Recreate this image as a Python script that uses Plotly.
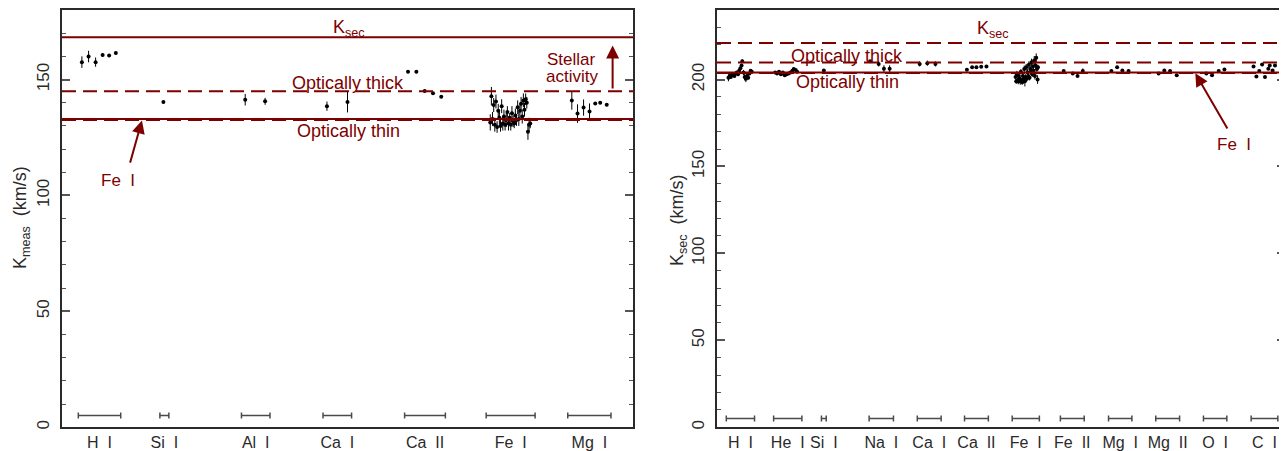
import plotly.graph_objects as go

# ---------------- data: left panel (K_meas) ----------------
L_labels = ["H\u00a0\u00a0I", "Si\u00a0\u00a0I", "Al\u00a0\u00a0I", "Ca\u00a0\u00a0I", "Ca\u00a0\u00a0II", "Fe\u00a0\u00a0I", "Mg\u00a0\u00a0I"]
L_br_lo = [2.0, 12.0, 22.0, 32.0, 42.0, 52.0, 62.0]
L_br_hi = [7.2, 13.1, 25.5, 35.5, 47.0, 58.0, 67.3]

L_HI_x = [2.44, 3.26, 4.12, 4.98, 5.78, 6.60]
L_HI_y = [157.5, 159.9, 157.5, 160.6, 160.4, 161.4]
L_HI_e = [2.5, 2.5, 2.0, 0.8, 0.6, 0.6]

L_SiI_x = [12.43]
L_SiI_y = [140.3]
L_SiI_e = [0.6]

L_AlI_x = [22.46, 24.9]
L_AlI_y = [141.3, 140.6]
L_AlI_e = [2.5, 1.5]

L_CaI_x = [32.48, 35.0]
L_CaI_y = [138.5, 140.3]
L_CaI_e = [2.0, 4.5]

L_CaII_x = [42.42, 43.44, 44.46, 45.48, 46.49]
L_CaII_y = [153.3, 153.3, 145.0, 144.1, 142.6]
L_CaII_e = [0.5, 0.5, 0.5, 0.5, 0.5]

L_FeI_x = [52.5, 52.64, 52.78, 52.92, 53.06, 53.2, 53.34, 53.48, 53.62, 53.76, 53.9, 54.04,
           54.18, 54.32, 54.46, 54.6, 54.74, 54.88, 55.02, 55.16, 55.3, 55.44, 55.58, 55.72,
           55.86, 56.0, 56.14, 56.28, 56.42, 56.56, 56.7, 56.84, 56.98, 57.12, 57.26, 57.4]
L_FeI_y = [131.5, 142.8, 133.0, 139.0, 130.5, 140.5, 129.5, 136.5, 133.5, 130.0, 138.5, 131.0,
           134.0, 130.5, 132.5, 136.0, 131.0, 133.5, 130.5, 135.5, 132.0, 131.0, 134.5, 132.5,
           138.0, 133.0, 136.5, 139.5, 134.0, 141.0, 137.0, 141.5, 140.0, 127.5, 130.5, 131.0]
L_FeI_e = [3.5, 4.0, 3.0, 3.0, 3.0, 3.0, 2.5, 3.0, 3.0, 2.5, 3.0, 3.0,
           3.0, 2.5, 3.0, 2.5, 3.0, 2.0, 2.5, 3.0, 2.5, 2.0, 3.0, 2.5,
           3.0, 3.0, 3.0, 3.0, 3.0, 3.0, 3.0, 2.5, 2.5, 3.5, 3.0, 2.0]

L_MgI_x = [62.5, 63.2, 63.94, 64.67, 65.37, 65.98, 66.78]
L_MgI_y = [141.0, 135.3, 137.9, 136.2, 139.7, 140.0, 139.1]
L_MgI_e = [4.0, 4.0, 3.5, 3.5, 0.6, 0.6, 0.6]

L_Ksec = 168.2
L_thick = 144.9
L_thin_solid = 133.0
L_thin_dash = 132.5

# ---------------- data: right panel (K_sec) ----------------
R_labels = ["H\u00a0\u00a0I", "He\u00a0\u00a0I", "Si\u00a0\u00a0I", "Na\u00a0\u00a0I", "Ca\u00a0\u00a0I", "Ca\u00a0\u00a0II",
            "Fe\u00a0\u00a0I", "Fe\u00a0\u00a0II", "Mg\u00a0\u00a0I", "Mg\u00a0\u00a0II", "O\u00a0\u00a0I", "C\u00a0\u00a0I"]
R_br_lo = [1.95, 11.87, 21.9, 31.9, 42.0, 51.9, 61.9, 72.0, 82.1, 92.0, 102.0, 112.0]
R_br_hi = [7.87, 17.8, 22.9, 37.0, 47.0, 56.9, 67.6, 77.0, 87.0, 97.0, 106.9, 117.6]

R_HI_x = [2.4, 2.65, 2.9, 3.15, 3.4, 3.65, 3.9, 4.15, 4.4, 4.65, 4.9, 5.15, 5.3, 5.55, 5.8,
          6.05, 6.3, 6.55, 6.8, 7.05, 7.3]
R_HI_y = [201.0, 202.0, 201.5, 203.0, 202.5, 202.0, 203.5, 204.0, 203.0, 205.0, 206.5, 208.0,
          210.5, 204.0, 201.5, 200.5, 202.0, 201.0, 203.5, 205.0, 204.5]
R_HI_e = [2.0, 1.0, 1.0, 1.0, 1.0, 1.0, 1.0, 1.0, 1.0, 1.0, 1.0, 1.0,
          1.0, 1.5, 2.0, 2.0, 1.5, 1.0, 1.0, 1.0, 1.0]

R_HeI_x = [12.2, 12.6, 13.0, 13.4, 13.8, 14.2, 14.6, 15.0, 15.4, 15.8, 16.1, 16.5, 16.8]
R_HeI_y = [204.0, 203.5, 204.5, 203.0, 204.0, 202.5, 203.0, 203.5, 204.0, 205.0, 206.0, 205.5, 204.5]
R_HeI_e = [0.5, 0.5, 0.5, 0.5, 0.5, 0.5, 0.5, 0.5, 0.5, 0.5, 0.5, 0.5, 0.5]

R_SiI_x = [22.4]
R_SiI_y = [205.2]
R_SiI_e = [0.5]

R_NaI_x = [32.1, 33.9, 35.0, 36.2]
R_NaI_y = [210.5, 209.0, 206.2, 206.2]
R_NaI_e = [0.5, 1.5, 2.0, 2.0]

R_CaI_x = [42.5, 44.1, 45.8]
R_CaI_y = [209.0, 209.4, 209.0]
R_CaI_e = [1.5, 1.5, 1.5]

R_CaII_x = [52.4, 53.5, 54.4, 55.4, 56.5]
R_CaII_y = [205.6, 207.0, 207.1, 207.4, 207.5]
R_CaII_e = [0.4, 0.4, 0.4, 0.4, 0.4]

R_FeI_x = [62.6, 62.74, 62.88, 63.02, 63.16, 63.3, 63.44, 63.58, 63.72, 63.86, 64.0, 64.14,
           64.28, 64.42, 64.56, 64.7, 64.84, 64.98, 65.12, 65.26, 65.4, 65.54, 65.68, 65.82,
           65.96, 66.1, 66.24, 66.38, 66.52, 66.66, 66.8, 66.94, 67.08, 67.22, 67.3]
R_FeI_y = [201.5, 199.0, 203.0, 199.5, 198.8, 202.0, 200.5, 199.0, 204.5, 199.5, 198.5, 202.0,
           200.0, 206.0, 199.0, 201.5, 207.0, 200.5, 204.0, 202.0, 208.5, 201.0, 206.0, 204.5,
           210.0, 203.0, 207.5, 205.0, 211.0, 202.0, 208.0, 212.5, 206.0, 200.0, 207.0]
R_FeI_e = [1.5, 1.5, 2.0, 1.5, 1.5, 2.0, 1.5, 2.0, 1.5, 1.5, 1.5, 2.0,
           1.5, 2.0, 3.0, 1.5, 2.0, 1.5, 2.0, 1.5, 2.0, 1.5, 2.0, 1.5,
           2.0, 1.5, 2.0, 1.5, 2.5, 2.0, 1.5, 2.5, 2.0, 2.5, 1.5]

R_FeII_x = [72.7, 74.6, 75.6, 76.7]
R_FeII_y = [204.9, 203.4, 202.0, 204.9]
R_FeII_e = [0.5, 0.5, 0.8, 1.5]

R_MgI_x = [82.7, 83.9, 85.0, 86.3]
R_MgI_y = [204.9, 207.1, 205.2, 204.9]
R_MgI_e = [0.5, 0.8, 0.5, 0.5]

R_MgII_x = [92.6, 93.8, 95.0, 96.4]
R_MgII_y = [203.4, 205.2, 204.9, 202.4]
R_MgII_e = [0.5, 0.5, 0.5, 0.8]

R_OI_x = [102.6, 103.8, 105.2, 106.4]
R_OI_y = [203.4, 202.4, 204.9, 205.8]
R_OI_e = [0.5, 0.5, 0.8, 0.8]

R_CI_x = [112.5, 113.1, 113.7, 114.3, 114.9, 115.6, 115.9, 116.5, 117.0]
R_CI_y = [207.5, 201.8, 204.9, 208.7, 201.4, 206.2, 208.1, 205.2, 208.1]
R_CI_e = [0.6, 0.6, 0.6, 0.6, 0.6, 0.6, 0.6, 0.6, 0.6]

R_Ksec = 221.0
R_thick = 209.8
R_thin_solid = 204.1
R_thin_dash = 203.7

# ---------------- styling ----------------
RED = "#7d0000"
FONT = "Liberation Sans"
AXC = "#2a2a2a"
TICKC = "#555555"
DASH = "14px,7px"

# page body has an 8px margin: figure is drawn 8px right/down of window origin
OFF = 8
W, H = 1287 - OFF, 451 - OFF


def px_x(p):
    return (p - OFF) / W


def px_y(p):
    return (H - (p - OFF)) / H


fig = go.Figure()


def pts(x, y, e, xa, ya):
    fig.add_trace(go.Scatter(
        x=x, y=y, mode="markers", xaxis=xa, yaxis=ya, showlegend=False,
        marker=dict(size=4, color="black"),
        error_y=dict(type="data", array=e, color="black", thickness=1, width=0),
        hoverinfo="skip"))


def brackets(lo, hi, xa, ya):
    cx = [(a + b) / 2 for a, b in zip(lo, hi)]
    ex = [(b - a) / 2 for a, b in zip(lo, hi)]
    fig.add_trace(go.Scatter(
        x=cx, y=[5] * len(cx), mode="markers", xaxis=xa, yaxis=ya, showlegend=False,
        marker=dict(size=1, color="rgba(0,0,0,0)"),
        error_x=dict(type="data", array=ex, color="#4a4a4a", thickness=1.5, width=3),
        hoverinfo="skip"))
    return cx


for x, y, e in [(L_HI_x, L_HI_y, L_HI_e), (L_SiI_x, L_SiI_y, L_SiI_e), (L_AlI_x, L_AlI_y, L_AlI_e),
                (L_CaI_x, L_CaI_y, L_CaI_e), (L_CaII_x, L_CaII_y, L_CaII_e),
                (L_FeI_x, L_FeI_y, L_FeI_e), (L_MgI_x, L_MgI_y, L_MgI_e)]:
    pts(x, y, e, "x", "y")
L_centers = brackets(L_br_lo, L_br_hi, "x", "y")

for x, y, e in [(R_HI_x, R_HI_y, R_HI_e), (R_HeI_x, R_HeI_y, R_HeI_e), (R_SiI_x, R_SiI_y, R_SiI_e),
                (R_NaI_x, R_NaI_y, R_NaI_e), (R_CaI_x, R_CaI_y, R_CaI_e), (R_CaII_x, R_CaII_y, R_CaII_e),
                (R_FeI_x, R_FeI_y, R_FeI_e), (R_FeII_x, R_FeII_y, R_FeII_e), (R_MgI_x, R_MgI_y, R_MgI_e),
                (R_MgII_x, R_MgII_y, R_MgII_e), (R_OI_x, R_OI_y, R_OI_e), (R_CI_x, R_CI_y, R_CI_e)]:
    pts(x, y, e, "x2", "y2")
R_centers = brackets(R_br_lo, R_br_hi, "x2", "y2")


def hline(y, xref, yref, dash):
    fig.add_shape(type="line", xref=xref + " domain", yref=yref, x0=0, x1=1, y0=y, y1=y,
                  line=dict(color=RED, width=2, dash=dash), layer="above")


hline(L_Ksec, "x", "y", "solid")
hline(L_thick, "x", "y", DASH)
hline(L_thin_dash, "x", "y", DASH)
hline(L_thin_solid, "x", "y", "solid")

hline(R_Ksec, "x2", "y2", DASH)
hline(R_thick, "x2", "y2", DASH)
hline(R_thin_dash, "x2", "y2", DASH)
hline(R_thin_solid, "x2", "y2", "solid")


def txt(x, y, s, xr, yr, size=18):
    fig.add_annotation(x=x, y=y, xref=xr, yref=yr, text=s, showarrow=False,
                       font=dict(family=FONT, size=size, color=RED))


# left panel texts
txt(35.2, 172.0, "K<sub>sec</sub>", "x", "y", 18)
txt(35.1, 148.3, "Optically thick", "x", "y")
txt(35.1, 128.0, "Optically thin", "x", "y")
txt(62.5, 158.6, "Stellar", "x", "y", 17)
txt(62.5, 151.5, "activity", "x", "y", 17)
txt(6.9, 106.5, "Fe\u00a0\u00a0I", "x", "y", 17)
fig.add_annotation(x=67.5, y=164.7, ax=67.5, ay=145.5, xref="x", yref="y", axref="x", ayref="y",
                   text="", showarrow=True, arrowhead=2, arrowsize=1.3, arrowwidth=2, arrowcolor=RED)
fig.add_annotation(x=9.8, y=132.3, ax=8.3, ay=113.5, xref="x", yref="y", axref="x", ayref="y",
                   text="", showarrow=True, arrowhead=2, arrowsize=1.3, arrowwidth=2, arrowcolor=RED)

# right panel texts
txt(57.9, 228.5, "K<sub>sec</sub>", "x2", "y2", 18)
txt(27.3, 213.6, "Optically thick", "x2", "y2")
txt(27.3, 198.6, "Optically thin", "x2", "y2")
txt(108.5, 162.5, "Fe\u00a0\u00a0I", "x2", "y2", 17)
fig.add_annotation(x=100.3, y=203.6, ax=107.2, ay=171.0, xref="x2", yref="y2", axref="x2", ayref="y2",
                   text="", showarrow=True, arrowhead=2, arrowsize=1.3, arrowwidth=2, arrowcolor=RED)

# axis titles
fig.add_annotation(x=px_x(21), y=px_y(219), xref="paper", yref="paper", xanchor="center", yanchor="middle",
                   textangle=-90, showarrow=False,
                   text="K<sub>meas</sub>\u00a0\u00a0(km/s)", font=dict(family=FONT, size=18, color=AXC))
fig.add_annotation(x=px_x(678), y=px_y(221), xref="paper", yref="paper", xanchor="center", yanchor="middle",
                   textangle=-90, showarrow=False,
                   text="K<sub>sec</sub>\u00a0\u00a0(km/s)", font=dict(family=FONT, size=18, color=AXC))

xcommon = dict(showline=True, linecolor=AXC, linewidth=1.5, mirror=True, showgrid=False, zeroline=False,
               ticks="", tickfont=dict(family=FONT, size=16, color=AXC), tickmode="array")
ycommon = dict(showline=True, linecolor=AXC, linewidth=1.5, mirror="ticks", showgrid=False, zeroline=False,
               ticks="inside", ticklen=8, tickwidth=1.5, tickcolor=TICKC, tickangle=-90,
               tickfont=dict(family=FONT, size=17, color=AXC), dtick=50, tick0=0, ticklabelstandoff=4,
               minor=dict(dtick=10, tick0=0, ticks="inside", ticklen=4, tickwidth=1, tickcolor=TICKC))

ydom = [px_y(430), px_y(9)]
fig.update_layout(
    width=W, height=H,
    margin=dict(l=0, r=0, t=0, b=0),
    paper_bgcolor="white", plot_bgcolor="white",
    xaxis=dict(domain=[px_x(62), px_x(633)], range=[0, 70], tickvals=L_centers, ticktext=L_labels, **xcommon),
    yaxis=dict(domain=ydom, range=[0, 180], anchor="x", **ycommon),
    xaxis2=dict(domain=[px_x(717), px_x(1285)], range=[0, 119.1], tickvals=R_centers, ticktext=R_labels,
                anchor="y2", **xcommon),
    yaxis2=dict(domain=ydom, range=[0, 240], anchor="x2", **ycommon),
)

fig.write_html("out.html")
